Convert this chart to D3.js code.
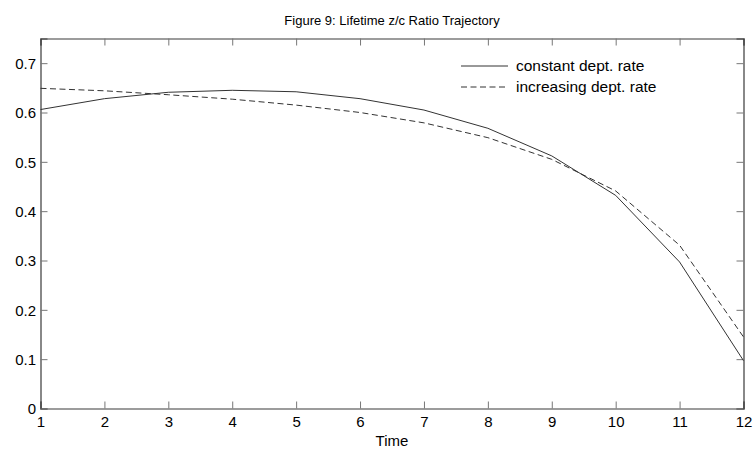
<!DOCTYPE html>
<html>
<head>
<meta charset="utf-8">
<script src="https://cdn.jsdelivr.net/npm/d3@7"></script>
<style>
html, body { margin: 0; padding: 0; background: #fff; }
svg text { font-family: "Liberation Sans", Arial, sans-serif; fill: #000; }
</style>
</head>
<body>
<svg id="chart" width="754" height="450"></svg>
<script>
const times = [1, 2, 3, 4, 5, 6, 7, 8, 9, 10, 11, 12];
const constantRate = [0.606, 0.628, 0.641, 0.645, 0.642, 0.628, 0.605, 0.568, 0.512, 0.432, 0.297, 0.097];
const increasingRate = [0.649, 0.644, 0.636, 0.627, 0.615, 0.600, 0.579, 0.549, 0.505, 0.441, 0.331, 0.145];
const seriesNames = ["constant dept. rate", "increasing dept. rate"];
const xTicks = [1, 2, 3, 4, 5, 6, 7, 8, 9, 10, 11, 12];
const yTicks = [0, 0.1, 0.2, 0.3, 0.4, 0.5, 0.6, 0.7];
const titleText = "Figure 9: Lifetime z/c Ratio Trajectory";
const xLabel = "Time";

const svg = d3.select("#chart");
const m = { left: 40.5, right: 743.5, top: 38.5, bottom: 408.5 };
const x = d3.scaleLinear().domain([1, 12]).range([m.left, m.right]);
const y = d3.scaleLinear().domain([0, 0.75]).range([m.bottom, m.top]);
const frameColor = "#3a3a3a";
const tickLen = 7;

// axes (ticks inward) on all four sides
const fmt = d => d === 0 ? "0" : d3.format(".1f")(d);
const axB = svg.append("g").attr("transform", `translate(0,${m.bottom})`)
  .call(d3.axisBottom(x).tickValues(xTicks).tickSize(-tickLen).tickPadding(8).tickFormat(d3.format("d")));
const axT = svg.append("g").attr("transform", `translate(0,${m.top})`)
  .call(d3.axisTop(x).tickValues(xTicks).tickSize(-tickLen).tickFormat(""));
const axL = svg.append("g").attr("transform", `translate(${m.left},0)`)
  .call(d3.axisLeft(y).tickValues(yTicks).tickSize(-tickLen).tickPadding(4.5).tickFormat(fmt));
const axR = svg.append("g").attr("transform", `translate(${m.right},0)`)
  .call(d3.axisRight(y).tickValues(yTicks).tickSize(-tickLen).tickFormat(""));
[axB, axT, axL, axR].forEach(a => {
  a.select(".domain").attr("stroke", frameColor).attr("stroke-width", 1.2);
  a.selectAll(".tick line").attr("stroke", "#777").attr("stroke-width", 1);
  a.selectAll("text").attr("font-size", 15).attr("font-family", "'Liberation Sans', Arial, sans-serif").attr("fill", "#000");
});
axL.selectAll("text").attr("dy", "0.35em");

// lines
const line = vals => d3.line().x((d, i) => x(times[i])).y(d => y(d))(vals);
svg.append("path").attr("d", line(constantRate)).attr("fill", "none")
  .attr("stroke", "#333").attr("stroke-width", 1);
svg.append("path").attr("d", line(increasingRate)).attr("fill", "none")
  .attr("stroke", "#333").attr("stroke-width", 1).attr("stroke-dasharray", "6,3.5");

// title and label
svg.append("text").attr("x", (m.left + m.right) / 2).attr("y", 25)
  .attr("text-anchor", "middle").attr("font-size", 13).text(titleText);
svg.append("text").attr("x", (m.left + m.right) / 2).attr("y", 446)
  .attr("text-anchor", "middle").attr("font-size", 15).text(xLabel);

// legend
const lg = svg.append("g");
seriesNames.forEach((name, i) => {
  const yy = 66 + i * 21;
  lg.append("line").attr("x1", 461).attr("x2", 508).attr("y1", yy).attr("y2", yy)
    .attr("stroke", "#333").attr("stroke-width", 1)
    .attr("stroke-dasharray", i === 1 ? "6,3.5" : null);
  lg.append("text").attr("x", 516).attr("y", yy).attr("dy", "0.35em")
    .attr("font-size", 15.5).text(name);
});
</script>
</body>
</html>
